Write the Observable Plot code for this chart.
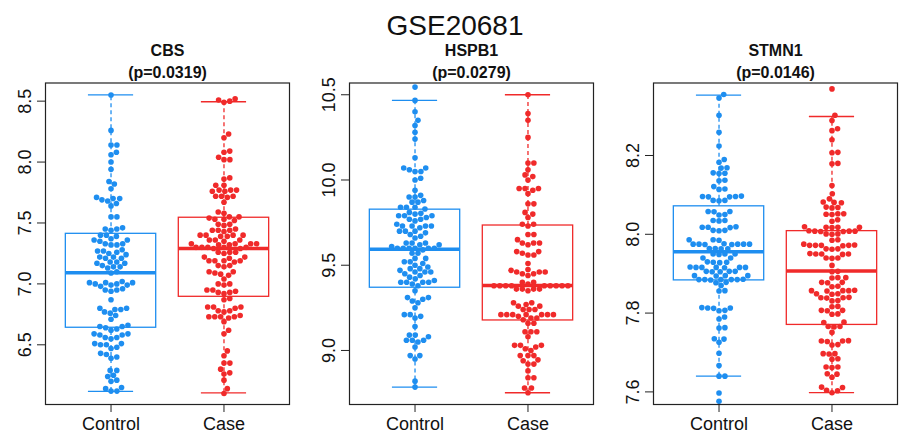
<!DOCTYPE html>
<html>
<head>
<meta charset="utf-8">
<script src="https://cdn.jsdelivr.net/npm/d3@7"></script>
<script src="https://cdn.jsdelivr.net/npm/@observablehq/plot@0.6"></script>
<style>
  html, body { margin: 0; padding: 0; background: #fff; }
  body { width: 904px; height: 435px; overflow: hidden; font-family: "Liberation Sans", Arial, sans-serif; }
  #title { height: 40px; line-height: 52px; text-align: center; font-size: 28px; color: #111; padding-left: 6px; }
  #row { display: flex; flex-direction: row; }
</style>
</head>
<body>
<div id="title">GSE20681</div>
<div id="row"></div>
<script>
// ---------------- data ----------------
const mainTitle = "GSE20681";
const groups = ["Control", "Case"];
const groupColors = ["#1E8EF0", "#F02A2A"];
const genes = ["CBS", "HSPB1", "STMN1"];
const pValues = ["0.0319", "0.0279", "0.0146"];

const cbsYTicks = [6.5, 7.0, 7.5, 8.0, 8.5];
const hspb1YTicks = [9.0, 9.5, 10.0, 10.5];
const stmn1YTicks = [7.6, 7.8, 8.0, 8.2];

const cbsDomain = [6.010, 8.649];
const hspb1Domain = [8.683, 10.569];
const stmn1Domain = [7.568, 8.384];

// box statistics [Control, Case]
const cbsLow = [6.117, 6.106], cbsQ1 = [6.640, 6.894], cbsMed = [7.091, 7.291], cbsQ3 = [7.411, 7.543], cbsHigh = [8.552, 8.495];
const hspb1Low = [8.785, 8.752], hspb1Q1 = [9.368, 9.176], hspb1Med = [9.594, 9.381], hspb1Q3 = [9.826, 9.733], hspb1High = [10.467, 10.500];
const stmn1Low = [7.640, 7.598], stmn1Q1 = [7.883, 7.770], stmn1Med = [7.956, 7.907], stmn1Q3 = [8.071, 8.008], stmn1High = [8.353, 8.299];

const cbsControl = [8.55,8.26,8.14,8.14,8.08,8.06,8.00,7.94,7.84,7.82,7.78,7.71,7.70,7.69,7.70,7.68,7.66,7.64,7.55,7.55,
  7.46,7.45,7.44,7.45,7.40,7.39,7.40,7.37,7.36,7.35,7.36,7.33,7.32,7.33,7.32,7.27,7.26,7.28,7.27,7.25,7.24,
  7.22,7.21,7.22,7.21,7.18,7.17,7.18,7.17,7.14,7.13,7.14,7.15,7.10,7.09,7.01,7.01,7.00,7.01,7.00,7.02,
  6.99,6.98,6.99,6.95,6.95,6.96,6.94,6.87,6.80,6.79,6.80,6.79,6.77,6.76,6.74,6.71,6.65,6.65,6.64,6.66,
  6.63,6.62,6.59,6.58,6.59,6.58,6.56,6.55,6.56,6.51,6.50,6.51,6.50,6.48,6.47,6.43,6.42,6.40,6.39,
  6.29,6.29,6.25,6.24,6.21,6.20,6.15,6.14,6.12,6.12];
const cbsCase = [8.52,8.51,8.50,8.49,8.23,8.20,8.09,8.08,8.04,8.02,8.02,7.87,7.86,7.81,7.81,7.77,7.77,7.76,7.77,7.76,
  7.72,7.72,7.71,7.72,7.67,7.59,7.58,7.55,7.54,7.55,7.53,7.52,7.53,7.49,7.49,7.48,7.44,7.44,7.45,7.44,7.43,
  7.40,7.40,7.39,7.40,7.40,7.39,7.36,7.36,7.35,7.36,7.33,7.33,7.32,7.33,7.32,7.33,
  7.30,7.30,7.29,7.30,7.29,7.30,7.30,7.26,7.26,7.25,7.26,7.22,7.22,7.21,7.19,7.19,7.18,7.19,7.19,
  7.15,7.15,7.14,7.10,7.10,7.09,7.08,7.07,7.04,7.00,7.00,6.99,6.95,6.95,6.94,6.93,6.92,6.93,6.88,6.87,
  6.81,6.81,6.80,6.81,6.78,6.78,6.77,6.73,6.73,6.72,6.73,6.73,6.74,6.69,6.62,6.59,6.45,6.41,6.35,6.35,
  6.30,6.27,6.26,6.21,6.14,6.10];
const hspb1Control = [10.545,10.467,10.40,10.35,10.32,10.28,10.24,10.13,10.07,10.07,10.06,10.05,10.05,10.01,10.00,9.94,
  9.90,9.90,9.91,9.88,9.87,9.87,9.84,9.84,9.83,9.84,9.805,9.80,9.81,9.79,9.79,9.78,9.79,9.77,9.77,9.76,
  9.73,9.73,9.72,9.73,9.73,9.74,9.70,9.70,9.69,9.70,9.68,9.67,9.66,9.63,9.63,9.62,9.63,9.62,
  9.60,9.60,9.60,9.59,9.60,9.60,9.61,9.60,9.57,9.57,9.54,9.54,9.52,9.52,9.51,9.50,9.49,9.48,9.48,9.47,
  9.46,9.46,9.45,9.46,9.44,9.43,9.42,9.41,9.40,9.40,9.39,9.40,9.40,9.38,9.35,9.31,9.31,9.30,9.29,9.28,9.25,
  9.21,9.21,9.20,9.19,9.14,9.09,9.09,9.08,9.06,9.06,9.05,9.06,9.02,8.97,8.97,8.95,8.82,8.785];
const hspb1Case = [10.50,10.39,10.35,10.25,10.10,10.10,10.06,10.03,10.02,10.00,9.95,9.95,9.94,9.95,9.92,9.86,9.86,
  9.81,9.80,9.78,9.74,9.74,9.73,9.68,9.68,9.65,9.63,9.63,9.62,9.63,9.58,9.58,9.57,9.56,9.56,9.51,9.475,
  9.46,9.46,9.46,9.47,9.45,9.45,9.44,9.40,9.40,9.38,9.38,9.38,9.38,9.38,9.38,9.38,9.39,9.38,9.38,
  9.36,9.36,9.36,9.36,9.35,9.28,9.28,9.27,9.26,9.26,9.24,9.24,9.24,9.21,9.21,9.21,9.21,9.20,9.21,9.21,9.21,
  9.19,9.19,9.18,9.16,9.16,9.11,9.11,9.11,9.08,9.03,9.03,9.03,9.02,9.01,9.00,8.97,8.97,8.97,8.945,8.94,
  8.92,8.92,8.88,8.84,8.84,8.78,8.78,8.752];
const stmn1Control = [8.355,8.346,8.302,8.259,8.224,8.19,8.183,8.169,8.168,8.155,8.156,8.154,8.137,8.136,8.121,8.115,8.114,
  8.096,8.095,8.097,8.096,8.095,8.086,8.085,8.086,8.058,8.057,8.058,8.05,8.049,8.035,8.034,8.035,
  8.018,8.017,8.018,8.019,8.01,8.009,8.01,7.986,7.985,7.986,7.975,7.975,7.974,7.975,7.976,7.975,7.975,7.974,
  7.964,7.963,7.964,7.963,7.95,7.95,7.949,7.95,7.94,7.94,7.929,7.929,7.928,7.93,
  7.916,7.916,7.915,7.916,7.917,7.916,7.916,7.906,7.905,7.906,7.906,7.905,7.895,7.895,7.894,7.895,
  7.885,7.885,7.884,7.885,7.886,7.885,7.885,7.878,7.877,7.87,7.857,7.856,7.813,7.813,7.812,7.814,
  7.807,7.806,7.79,7.785,7.763,7.762,7.735,7.734,7.726,7.698,7.667,7.64,7.64,7.597,7.576];
const stmn1Case = [8.369,8.302,8.289,8.268,8.263,8.24,8.208,8.207,8.18,8.179,8.124,8.103,8.09,8.082,8.081,8.08,
  8.069,8.067,8.068,8.052,8.051,8.05,8.052,8.037,8.033,8.018,8.017,8.018,8.019,8.018,
  8.008,8.007,8.008,8.009,8.008,8.007,8.001,8.0,8.001,7.986,7.985,7.975,7.972,7.971,7.972,7.972,7.973,7.972,
  7.963,7.962,7.963,7.95,7.95,7.949,7.951,7.95,7.94,7.94,7.939,7.921,7.906,7.905,7.89,7.89,7.889,
  7.878,7.877,7.878,7.868,7.867,7.857,7.857,7.856,7.857,7.858,7.849,7.848,7.849,7.839,7.838,7.839,7.84,
  7.832,7.831,7.817,7.816,7.807,7.806,7.807,7.798,7.797,7.777,7.776,7.766,7.765,7.766,7.751,
  7.729,7.728,7.729,7.73,7.72,7.719,7.697,7.696,7.697,7.684,7.683,7.663,7.662,7.663,7.646,7.645,7.637,
  7.612,7.611,7.604,7.603,7.598];

// ---------------- layout ----------------
const font = '"Liberation Sans", Arial, sans-serif';
const svgHeight = 395, marginTop = 42.5, marginBottom = 31;
const frameW = 244;
const xDomain = [0.42, 2.58];
const panels = [
  {gene: genes[0], p: pValues[0], ticks: cbsYTicks, domain: cbsDomain, values: [cbsControl, cbsCase],
   low: cbsLow, q1: cbsQ1, med: cbsMed, q3: cbsQ3, high: cbsHigh, width: 301, ml: 45},
  {gene: genes[1], p: pValues[1], ticks: hspb1YTicks, domain: hspb1Domain, values: [hspb1Control, hspb1Case],
   low: hspb1Low, q1: hspb1Q1, med: hspb1Med, q3: hspb1Q3, high: hspb1High, width: 301, ml: 48},
  {gene: genes[2], p: pValues[2], ticks: stmn1YTicks, domain: stmn1Domain, values: [stmn1Control, stmn1Case],
   low: stmn1Low, q1: stmn1Q1, med: stmn1Med, q3: stmn1Q3, high: stmn1High, width: 302, ml: 51}
];

// beeswarm ("swarm" placement): offsets computed in pixels, returned in x-data units
function swarm(values, pxPerY, pxPerX, d) {
  const order = d3.range(values.length).sort((a, b) => values[a] - values[b]);
  const placed = [];
  const out = new Array(values.length);
  for (const i of order) {
    const y = values[i] * pxPerY;
    const near = placed.filter(p => Math.abs(p.y - y) < d);
    const cands = [0];
    for (const p of near) {
      const dx = Math.sqrt(d * d - (p.y - y) ** 2);
      cands.push(p.x + dx, p.x - dx);
    }
    cands.sort((a, b) => Math.abs(a) - Math.abs(b));
    let x = 0;
    for (const c of cands) {
      if (near.every(p => (p.x - c) ** 2 + (p.y - y) ** 2 >= d * d - 1e-6)) { x = c; break; }
    }
    placed.push({x, y});
    out[i] = x / pxPerX;
  }
  return out;
}

const row = document.getElementById("row");
const innerH = svgHeight - marginTop - marginBottom;

for (const P of panels) {
  const pxPerY = innerH / (P.domain[1] - P.domain[0]);
  const pxPerX = frameW / (xDomain[1] - xDomain[0]);
  const pts = [];
  P.values.forEach((vals, gi) => {
    const offs = swarm(vals, pxPerY, pxPerX, 5.9);
    vals.forEach((v, k) => pts.push({group: groups[gi], pos: gi + 1, x: gi + 1 + offs[k], y: v}));
  });
  const boxes = groups.map((g, gi) => ({
    group: g, pos: gi + 1, low: P.low[gi], q1: P.q1[gi], med: P.med[gi], q3: P.q3[gi], high: P.high[gi]
  }));
  const plot = Plot.plot({
    width: P.width, height: svgHeight,
    marginTop, marginBottom, marginLeft: P.ml, marginRight: P.width - P.ml - frameW,
    style: {fontFamily: font, background: "white", overflow: "visible"},
    x: {domain: xDomain},
    y: {domain: P.domain},
    color: {domain: groups, range: groupColors},
    marks: [
      Plot.ruleX(boxes, {x: "pos", y1: "q3", y2: "high", stroke: "group", strokeWidth: 1.3, strokeDasharray: "4,3"}),
      Plot.ruleX(boxes, {x: "pos", y1: "low", y2: "q1", stroke: "group", strokeWidth: 1.3, strokeDasharray: "4,3"}),
      Plot.ruleY(boxes, {y: "high", x1: d => d.pos - 0.2, x2: d => d.pos + 0.2, stroke: "group", strokeWidth: 1.3}),
      Plot.ruleY(boxes, {y: "low", x1: d => d.pos - 0.2, x2: d => d.pos + 0.2, stroke: "group", strokeWidth: 1.3}),
      Plot.rect(boxes, {x1: d => d.pos - 0.4, x2: d => d.pos + 0.4, y1: "q1", y2: "q3", stroke: "group", fill: "none", strokeWidth: 1.3}),
      Plot.ruleY(boxes, {y: "med", x1: d => d.pos - 0.4, x2: d => d.pos + 0.4, stroke: "group", strokeWidth: 3.5}),
      Plot.dot(pts, {x: "x", y: "y", r: 2.8, fill: "group", stroke: null}),
      Plot.frame({stroke: "#222", strokeWidth: 1.2}),
      Plot.axisY({ticks: P.ticks, tickSize: 8, tickFormat: () => "", stroke: "#222"}),
      Plot.text(P.ticks, {y: d => d, text: d => d.toFixed(1), frameAnchor: "left", dx: -20, rotate: -90,
        textAnchor: "middle", lineAnchor: "middle", fontSize: 18, fill: "#111"}),
      Plot.axisX({ticks: [1, 2], tickFormat: d => groups[d - 1], tickSize: 8, tickPadding: 5, fontSize: 18, stroke: "#222", fill: "#111"}),
      Plot.text([P.gene], {frameAnchor: "top", dy: -32.5, text: d => d, fontWeight: "bold", fontSize: 16, lineAnchor: "middle", fill: "#111"}),
      Plot.text([P.p], {frameAnchor: "top", dy: -10.5, text: d => `(p=${d})`, fontWeight: "bold", fontSize: 16, lineAnchor: "middle", fill: "#111"})
    ]
  });
  const wrap = document.createElement("div");
  wrap.style.width = P.width + "px";
  wrap.appendChild(plot);
  row.appendChild(wrap);
}
</script>
</body>
</html>
